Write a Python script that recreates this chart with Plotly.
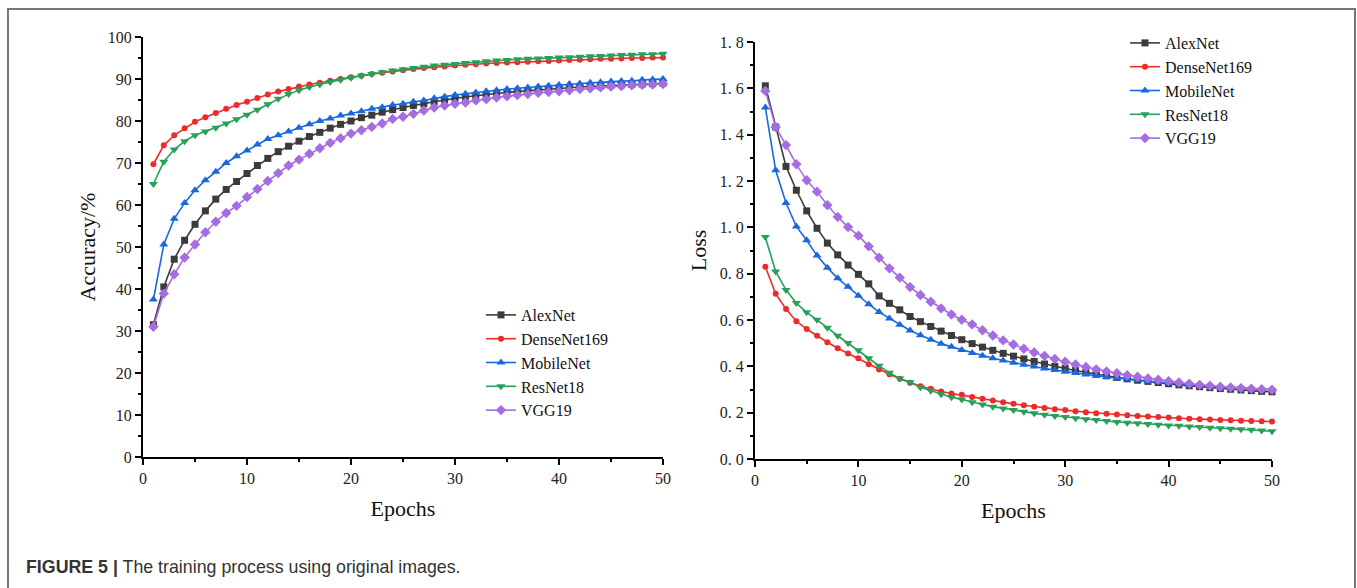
import plotly.graph_objects as go

W, H = 1357, 588

epochs = list(range(1, 51))
models = ["AlexNet", "DenseNet169", "MobileNet", "ResNet18", "VGG19"]

acc_alexnet = [31.5, 40.5, 47.1, 51.6, 55.4, 58.6, 61.4, 63.7, 65.6, 67.5,
               69.4, 71.1, 72.7, 74.0, 75.2, 76.3, 77.3, 78.3, 79.2, 80.0,
               80.8, 81.4, 82.1, 82.7, 83.2, 83.7, 84.1, 84.6, 85.0, 85.4,
               85.7, 86.0, 86.3, 86.6, 86.8, 87.0, 87.2, 87.4, 87.6, 87.8,
               87.9, 88.1, 88.2, 88.3, 88.5, 88.6, 88.7, 88.8, 88.9, 89.0]
acc_densenet = [69.7, 74.2, 76.6, 78.3, 79.8, 80.9, 81.9, 82.9, 83.8, 84.6,
                85.5, 86.3, 87.0, 87.6, 88.2, 88.7, 89.1, 89.6, 90.0, 90.4,
                90.8, 91.2, 91.5, 91.8, 92.1, 92.4, 92.6, 92.8, 93.0, 93.2,
                93.4, 93.5, 93.7, 93.8, 93.9, 94.0, 94.1, 94.2, 94.3, 94.4,
                94.5, 94.6, 94.7, 94.8, 94.8, 94.9, 95.0, 95.0, 95.1, 95.1]
acc_mobilenet = [37.5, 50.6, 56.7, 60.5, 63.5, 65.9, 67.9, 70.0, 71.6, 73.0,
                 74.4, 75.7, 76.6, 77.5, 78.4, 79.2, 80.0, 80.6, 81.3, 81.8,
                 82.3, 82.9, 83.3, 83.8, 84.1, 84.6, 84.9, 85.4, 85.8, 86.2,
                 86.5, 86.8, 87.1, 87.3, 87.6, 87.8, 88.0, 88.2, 88.4, 88.6,
                 88.8, 88.9, 89.1, 89.2, 89.4, 89.5, 89.6, 89.8, 89.9, 90.0]
acc_resnet = [65.0, 70.3, 73.2, 75.2, 76.6, 77.5, 78.4, 79.4, 80.4, 81.5,
              82.7, 84.0, 85.3, 86.4, 87.3, 88.1, 88.7, 89.3, 89.8, 90.3,
              90.8, 91.2, 91.6, 92.0, 92.3, 92.6, 92.9, 93.2, 93.4, 93.6,
              93.8, 94.0, 94.2, 94.4, 94.5, 94.7, 94.8, 94.9, 95.0, 95.1,
              95.2, 95.3, 95.4, 95.5, 95.6, 95.7, 95.8, 95.9, 95.9, 96.0]
acc_vgg = [31.0, 38.9, 43.5, 47.5, 50.6, 53.5, 56.0, 58.1, 59.8, 61.9,
           63.8, 65.7, 67.6, 69.4, 70.8, 72.2, 73.5, 74.8, 75.9, 77.0,
           77.8, 78.6, 79.4, 80.5, 81.0, 81.7, 82.5, 83.2, 83.7, 84.1,
           84.4, 84.9, 85.2, 85.6, 85.9, 86.2, 86.4, 86.7, 86.9, 87.1,
           87.3, 87.6, 87.8, 88.0, 88.2, 88.3, 88.5, 88.6, 88.7, 88.8]

loss_alexnet = [1.611, 1.433, 1.263, 1.160, 1.071, 0.996, 0.932, 0.881, 0.837, 0.797,
                0.756, 0.704, 0.672, 0.644, 0.615, 0.593, 0.572, 0.552, 0.533, 0.515,
                0.498, 0.483, 0.469, 0.456, 0.444, 0.432, 0.421, 0.410, 0.400, 0.391,
                0.382, 0.374, 0.366, 0.359, 0.352, 0.346, 0.340, 0.335, 0.330, 0.325,
                0.320, 0.316, 0.312, 0.308, 0.304, 0.301, 0.298, 0.295, 0.292, 0.290]
loss_densenet = [0.830, 0.713, 0.647, 0.595, 0.561, 0.532, 0.504, 0.478, 0.455, 0.435,
                 0.409, 0.386, 0.366, 0.346, 0.329, 0.314, 0.303, 0.291, 0.283, 0.277,
                 0.268, 0.260, 0.252, 0.245, 0.238, 0.232, 0.226, 0.220, 0.215, 0.211,
                 0.206, 0.202, 0.198, 0.195, 0.192, 0.189, 0.186, 0.183, 0.181, 0.179,
                 0.176, 0.174, 0.172, 0.170, 0.168, 0.167, 0.165, 0.164, 0.163, 0.162]
loss_mobilenet = [1.517, 1.246, 1.105, 1.004, 0.944, 0.878, 0.826, 0.780, 0.743, 0.705,
                  0.668, 0.634, 0.607, 0.580, 0.555, 0.534, 0.515, 0.498, 0.484, 0.471,
                  0.458, 0.446, 0.435, 0.425, 0.416, 0.407, 0.399, 0.391, 0.384, 0.377,
                  0.371, 0.365, 0.359, 0.354, 0.349, 0.344, 0.340, 0.336, 0.332, 0.328,
                  0.324, 0.321, 0.318, 0.315, 0.312, 0.309, 0.306, 0.304, 0.302, 0.300]
loss_resnet = [0.958, 0.809, 0.730, 0.673, 0.633, 0.601, 0.567, 0.532, 0.501, 0.469,
               0.435, 0.402, 0.372, 0.347, 0.331, 0.310, 0.295, 0.280, 0.267, 0.257,
               0.245, 0.235, 0.226, 0.218, 0.211, 0.204, 0.197, 0.191, 0.186, 0.181,
               0.176, 0.172, 0.168, 0.164, 0.160, 0.157, 0.154, 0.151, 0.148, 0.145,
               0.143, 0.140, 0.138, 0.135, 0.133, 0.131, 0.128, 0.126, 0.123, 0.120]
loss_vgg = [1.589, 1.433, 1.355, 1.272, 1.203, 1.154, 1.096, 1.045, 1.001, 0.964,
            0.918, 0.869, 0.823, 0.783, 0.742, 0.708, 0.679, 0.650, 0.624, 0.601,
            0.581, 0.556, 0.533, 0.512, 0.494, 0.476, 0.460, 0.445, 0.432, 0.420,
            0.408, 0.397, 0.387, 0.378, 0.370, 0.362, 0.355, 0.348, 0.342, 0.336,
            0.330, 0.325, 0.320, 0.316, 0.312, 0.309, 0.306, 0.303, 0.301, 0.299]

loss_ticks = [0.0, 0.2, 0.4, 0.6, 0.8, 1.0, 1.2, 1.4, 1.6, 1.8]
loss_ticktext = ["0. 0", "0. 2", "0. 4", "0. 6", "0. 8", "1. 0", "1. 2", "1. 4", "1. 6", "1. 8"]

acc_series = [acc_alexnet, acc_densenet, acc_mobilenet, acc_resnet, acc_vgg]
loss_series = [loss_alexnet, loss_densenet, loss_mobilenet, loss_resnet, loss_vgg]

colors = ["#3b3b3b", "#ee2b2b", "#1a67e0", "#27a058", "#a56de0"]
symbols = ["square", "circle", "triangle-up", "triangle-down", "diamond"]
msizes = [7, 6, 8, 8, 8]

SERIF = "Liberation Serif, Times New Roman, serif"

fig = go.Figure()
for name, ys, c, s, ms in zip(models, acc_series, colors, symbols, msizes):
    fig.add_trace(go.Scatter(x=epochs, y=ys, name=name, mode="lines+markers",
                             line=dict(color=c, width=1.6),
                             marker=dict(symbol=s, size=ms, color=c),
                             xaxis="x", yaxis="y", legend="legend", cliponaxis=False))
for name, ys, c, s, ms in zip(models, loss_series, colors, symbols, msizes):
    fig.add_trace(go.Scatter(x=epochs, y=ys, name=name, mode="lines+markers",
                             line=dict(color=c, width=1.6),
                             marker=dict(symbol=s, size=ms, color=c),
                             xaxis="x2", yaxis="y2", legend="legend2", cliponaxis=False))

def px_x(p):
    return p / W

def px_y(p):
    return (H - p) / H

def axis_common():
    return dict(showline=True, linewidth=2, linecolor="black", showgrid=False,
                zeroline=False, ticks="outside", ticklen=6, tickwidth=2, tickcolor="black",
                automargin=False,
                tickfont=dict(family=SERIF, size=16, color="#222"),
                minor=dict(ticks="outside", ticklen=3, tickwidth=2, tickcolor="black", showgrid=False))

TITLE_FONT = dict(family=SERIF, size=22, color="#111")

fig.update_layout(
    width=W, height=H,
    margin=dict(l=0, r=0, t=0, b=0, autoexpand=False),
    paper_bgcolor="white", plot_bgcolor="white",
    font=dict(family=SERIF, size=16, color="#222"),
    showlegend=True,
    xaxis=dict(domain=[px_x(143), px_x(663)], range=[0, 50], dtick=10,
               anchor="y", title=dict(text="Epochs", font=TITLE_FONT, standoff=14), **axis_common()),
    yaxis=dict(domain=[px_y(457), px_y(37)], range=[0, 100], dtick=10,
               anchor="x", title=dict(text="Accuracy/%", font=TITLE_FONT, standoff=6), **axis_common()),
    xaxis2=dict(domain=[px_x(755), px_x(1272)], range=[0, 50], dtick=10,
                anchor="y2", title=dict(text="Epochs", font=TITLE_FONT, standoff=14), **axis_common()),
    yaxis2=dict(domain=[px_y(459), px_y(42)], range=[0, 1.8],
                tickvals=loss_ticks, ticktext=loss_ticktext,
                anchor="x2", title=dict(text="Loss", font=TITLE_FONT, standoff=7), **axis_common()),
    legend=dict(x=px_x(481), y=px_y(298), xanchor="left", yanchor="top",
                bgcolor="rgba(0,0,0,0)", font=dict(family=SERIF, size=16, color="#111"),
                tracegroupgap=0, itemsizing="trace"),
    legend2=dict(x=px_x(1125), y=px_y(26), xanchor="left", yanchor="top",
                 bgcolor="rgba(0,0,0,0)", font=dict(family=SERIF, size=16, color="#111"),
                 tracegroupgap=0, itemsizing="trace"),
)
fig.layout.xaxis.minor.dtick = 5
fig.layout.xaxis2.minor.dtick = 5
fig.layout.yaxis.minor.dtick = 5
fig.layout.yaxis2.minor.dtick = 0.1

# outer frame
fig.add_shape(type="rect", xref="paper", yref="paper",
              x0=px_x(8), x1=px_x(1355), y0=-0.05, y1=px_y(9),
              line=dict(color="#777777", width=2), fillcolor="rgba(0,0,0,0)")

fig.add_annotation(xref="paper", yref="paper", x=px_x(24), y=px_y(567),
                   xanchor="left", yanchor="middle", showarrow=False,
                   text="<b>FIGURE 5 |</b> The training process using original images.",
                   font=dict(family="Liberation Sans, Arial, sans-serif",
                             size=17.8, color="#333"))

fig.write_html("out.html", config={"displayModeBar": False},
               post_script="document.body.style.margin='0';document.body.style.padding='0';")
